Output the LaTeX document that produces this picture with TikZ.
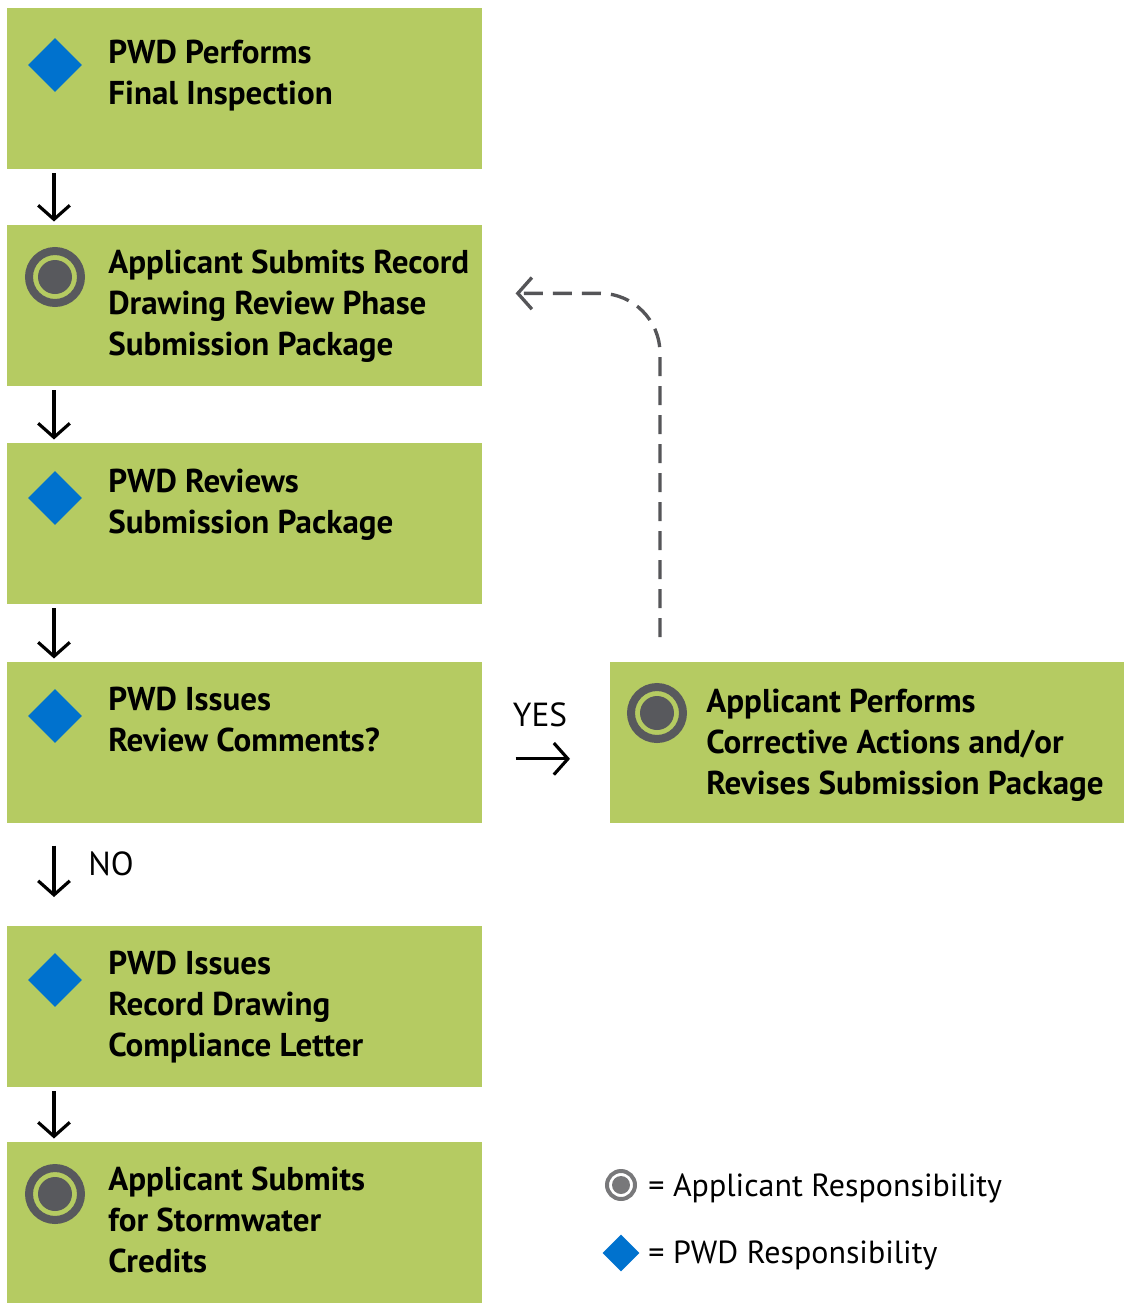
\documentclass[tikz,border=0pt]{standalone}
\usepackage{fontspec}
\setmainfont{PT Sans}
\usetikzlibrary{shapes.geometric, arrows.meta}
\definecolor{stepgreen}{RGB}{181,203,98}
\definecolor{pwdblue}{RGB}{0,114,206}
\definecolor{ringgray}{RGB}{88,89,93}
\definecolor{keygray}{RGB}{120,120,122}
\definecolor{loopgray}{RGB}{85,85,88}

\begin{document}
\begin{tikzpicture}[x=0.02cm, y=-0.02cm,
	stepbox/.style={fill=stepgreen, minimum width=9.5cm, minimum height=3.22cm, inner sep=0, anchor=north west},
	steptext/.style={anchor=north west, align=left, inner sep=0, font=\fontsize{18.8}{23.3}\selectfont\bfseries},
	pwd/.style={diamond, fill=pwdblue, inner sep=0, minimum size=1.08cm},
	applicant/.style={circle, draw=ringgray, line width=0.16cm, minimum size=1.04cm, inner sep=0,
		path picture={\fill[ringgray] (path picture bounding box.center) circle (0.34cm);}},
	flow/.style={-{Straight Barb[length=8pt, width=18pt]}, line width=1.8pt},
	plain/.style={inner sep=0, font=\fontsize{19}{23}\selectfont}
]
	\useasboundingbox (0,0) rectangle (1126,1303);

	% steps
	\node[stepbox] (inspect) at (7,8) {};
	\node[stepbox] (submit) at (7,225) {};
	\node[stepbox] (review) at (7,443) {};
	\node[stepbox] (issues) at (7,662) {};
	\node[stepbox] (letter) at (7,926) {};
	\node[stepbox] (credits) at (7,1142) {};
	\node[stepbox, minimum width=10.28cm] (revise) at (610,662) {};

	\node[pwd] (iconinspect) at (55,65) {};
	\node[applicant] (iconsubmit) at (55,277) {};
	\node[pwd] (iconreview) at (55,498) {};
	\node[pwd] (iconissues) at (55,716) {};
	\node[pwd] (iconletter) at (55,980) {};
	\node[applicant] (iconcredits) at (55,1194) {};
	\node[applicant] (iconrevise) at (657,713) {};

	\node[steptext] (txtinspect) at (108,40) {PWD Performs\\Final Inspection};
	\node[steptext] (txtsubmit) at (108,250) {Applicant Submits Record\\Drawing Review Phase\\Submission Package};
	\node[steptext] (txtreview) at (108,469) {PWD Reviews\\Submission Package};
	\node[steptext] (txtissues) at (108,687) {PWD Issues\\Review Comments?};
	\node[steptext] (txtletter) at (108,951) {PWD Issues\\Record Drawing\\Compliance Letter};
	\node[steptext] (txtcredits) at (108,1167) {Applicant Submits\\for Stormwater\\Credits};
	\node[steptext] (txtrevise) at (706,689) {Applicant Performs\\Corrective Actions and/or\\Revises Submission Package};

	% arrows
	\draw[flow, shorten <=2pt, shorten >=2pt] ([xshift=0.94cm]inspect.south west) -- ([xshift=0.94cm]submit.north west);
	\draw[flow, shorten <=2pt, shorten >=2pt] ([xshift=0.94cm]submit.south west) -- ([xshift=0.94cm]review.north west);
	\draw[flow, shorten <=2pt, shorten >=2pt] ([xshift=0.94cm]review.south west) -- ([xshift=0.94cm]issues.north west);
	\draw[flow, shorten <=0.44cm, shorten >=0.58cm] ([xshift=0.94cm]issues.south west) -- ([xshift=0.94cm]letter.north west);
	\draw[flow, shorten <=2pt, shorten >=2pt] ([xshift=0.94cm]letter.south west) -- ([xshift=0.94cm]credits.north west);
	\draw[flow, shorten <=0.66cm, shorten >=0.8cm] ([yshift=-0.32cm]issues.east) -- ([yshift=-0.32cm]revise.west);

	\node[plain] (lblno) at (111,864) {NO};
	\node[plain] (lblyes) at (540,715) {YES};

	\draw[loopgray, line width=1.9pt, dash pattern=on 0.38cm off 0.2cm, rounded corners=1.2cm,
		-{Straight Barb[length=8pt, width=18pt]}]
		([xshift=1cm, yshift=0.5cm]revise.north west) |- ([xshift=0.66cm, yshift=0.25cm]submit.east);

	% key
	\node[applicant, draw=keygray, fill=white, line width=0.08cm, minimum size=0.56cm,
		path picture={\fill[keygray] (path picture bounding box.center) circle (0.18cm);}] (keyapp) at (621,1185) {};
	\node[pwd, minimum size=0.74cm] (keypwd) at (621,1253) {};
	\node[plain, anchor=base west, font=\fontsize{18.2}{22}\selectfont] (txtkeyapp) at (648,1196) {= Applicant Responsibility};
	\node[plain, anchor=base west, font=\fontsize{18.2}{22}\selectfont] (txtkeypwd) at (648,1263) {= PWD Responsibility};

\end{tikzpicture}
\end{document}
